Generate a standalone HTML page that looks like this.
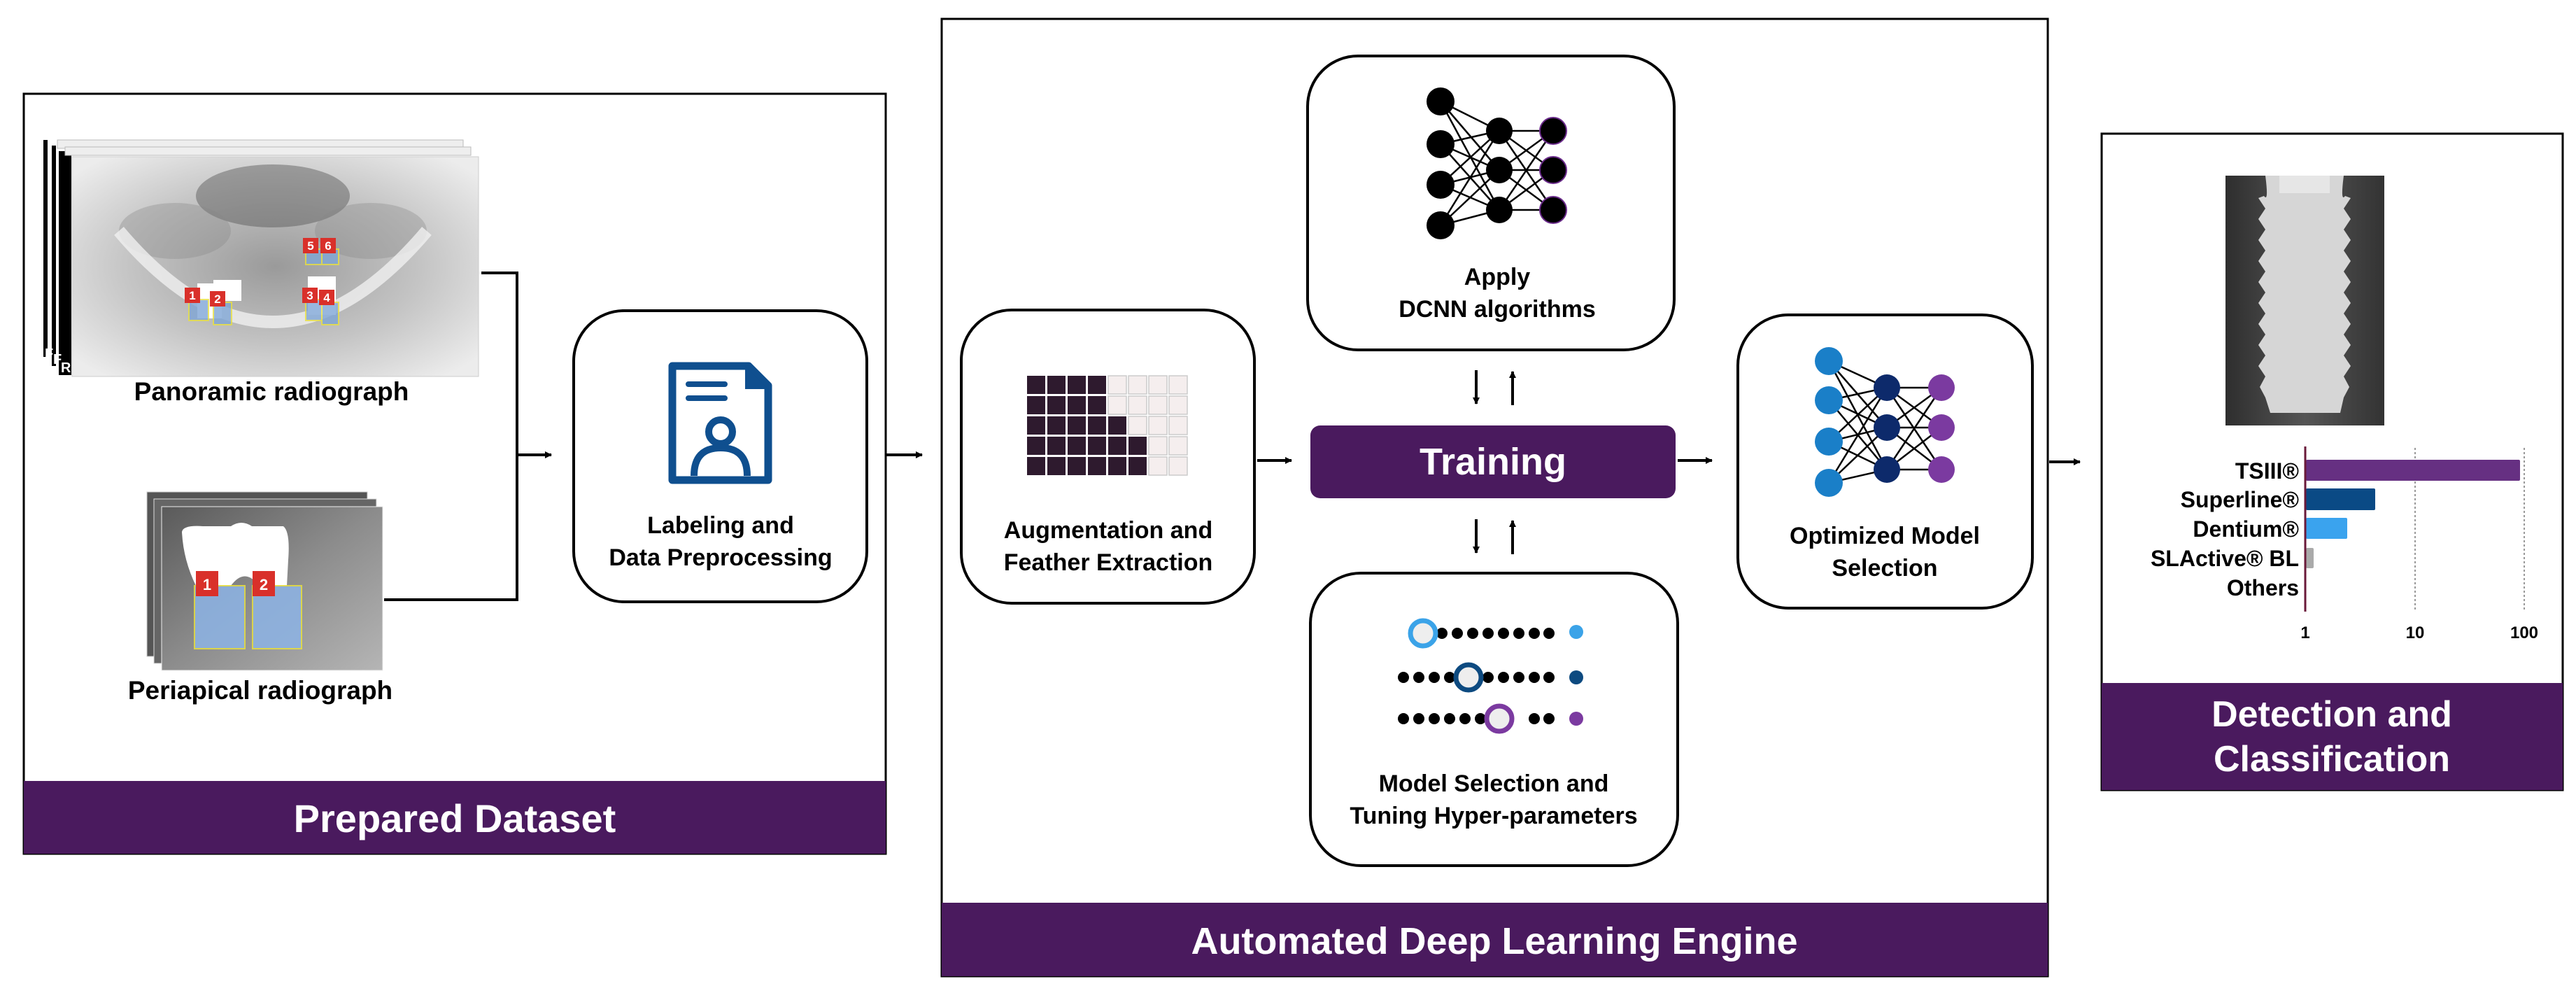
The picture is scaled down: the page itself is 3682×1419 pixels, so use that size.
<!DOCTYPE html>
<html><head><meta charset="utf-8"><style>
html,body{margin:0;padding:0;background:#fff;}
svg{display:block;}
text{font-family:"Liberation Sans",sans-serif;font-weight:bold;}
</style></head><body>
<svg width="3682" height="1419" viewBox="0 0 3682 1419" xmlns="http://www.w3.org/2000/svg">
<defs>
<marker id="ah" markerWidth="10" markerHeight="10" refX="9" refY="5" orient="auto" markerUnits="userSpaceOnUse">
<path d="M0,0 L10,5 L0,10 z" fill="#000"/></marker>
<radialGradient id="pan" cx="0.5" cy="0.5" r="0.65">
<stop offset="0" stop-color="#9a9a9a"/><stop offset="0.55" stop-color="#c4c4c4"/><stop offset="1" stop-color="#ececec"/></radialGradient>
<linearGradient id="peri" x1="0" y1="0" x2="1" y2="1">
<stop offset="0" stop-color="#5a5a5a"/><stop offset="0.5" stop-color="#8c8c8c"/><stop offset="1" stop-color="#b5b5b5"/></linearGradient>
<linearGradient id="imp" x1="0" y1="0" x2="1" y2="0">
<stop offset="0" stop-color="#2e2e2e"/><stop offset="0.5" stop-color="#555"/><stop offset="1" stop-color="#333"/></linearGradient>
</defs>

<!-- Prepared Dataset -->
<rect x="34" y="134" width="1232" height="1086" fill="#fff" stroke="#000" stroke-width="3"/>
<rect x="34" y="1116" width="1232" height="104" fill="#4a1a5e"/>
<text x="650" y="1189" font-size="56" fill="#fff" text-anchor="middle">Prepared Dataset</text>

<!-- panoramic stack -->
<rect x="62" y="200" width="6" height="310" fill="#000"/>
<rect x="74" y="208" width="6" height="315" fill="#000"/>
<rect x="84" y="216" width="18" height="320" fill="#000"/>
<rect x="82" y="200" width="580" height="12" fill="#eee" stroke="#bbb"/>
<rect x="93" y="210" width="580" height="12" fill="#eee" stroke="#bbb"/>
<rect x="103" y="224" width="581" height="314" fill="url(#pan)" stroke="#ccc"/>
<ellipse cx="390" cy="280" rx="110" ry="45" fill="#555" opacity="0.45"/>
<ellipse cx="250" cy="330" rx="80" ry="40" fill="#888" opacity="0.35"/>
<ellipse cx="530" cy="330" rx="80" ry="40" fill="#888" opacity="0.35"/>
<path d="M170,330 Q390,590 610,330" stroke="#f0f0f0" stroke-width="18" fill="none" opacity="0.8"/>
<g fill="#fff"><rect x="282" y="405" width="35" height="50"/><rect x="440" y="395" width="40" height="55"/><rect x="305" y="400" width="40" height="30"/></g>
<g fill="#7fa6d6" opacity="0.8" stroke="#e8e040" stroke-width="2">
<rect x="270" y="428" width="28" height="30"/><rect x="305" y="432" width="26" height="32"/>
<rect x="437" y="428" width="24" height="30"/><rect x="460" y="432" width="24" height="32"/>
<rect x="437" y="356" width="24" height="22"/><rect x="460" y="356" width="24" height="22"/></g>
<g fill="#d9302a"><rect x="264" y="411" width="22" height="22"/><rect x="300" y="416" width="22" height="22"/>
<rect x="432" y="411" width="22" height="22"/><rect x="456" y="414" width="22" height="22"/>
<rect x="433" y="340" width="22" height="22"/><rect x="458" y="340" width="22" height="22"/></g>
<g fill="#fff" font-size="17" text-anchor="middle">
<text x="275" y="428">1</text><text x="311" y="433">2</text><text x="443" y="428">3</text><text x="467" y="431">4</text><text x="444" y="357">5</text><text x="469" y="357">6</text></g>
<g fill="#fff" font-size="20"><text x="64" y="512">F</text><text x="76" y="520">F</text><text x="87" y="532">R</text></g>
<text x="388" y="572" font-size="37" text-anchor="middle">Panoramic radiograph</text>

<!-- periapical stack -->
<rect x="210" y="703" width="315" height="235" fill="#555" stroke="#ccc"/>
<rect x="220" y="713" width="318" height="235" fill="#666" stroke="#ddd"/>
<rect x="231" y="724" width="316" height="234" fill="url(#peri)" stroke="#eee"/>
<path d="M260,760 Q262,750 290,752 L330,752 Q345,742 360,752 L405,752 Q415,760 412,800 L410,837 L370,837 Q350,810 330,837 L280,837 Q262,800 260,760z" fill="#fff"/>
<g fill="#8db4e6" opacity="0.85" stroke="#e8e040" stroke-width="2">
<rect x="278" y="837" width="72" height="90"/><rect x="361" y="837" width="70" height="90"/></g>
<rect x="280" y="816" width="32" height="36" fill="#d9302a"/><rect x="361" y="816" width="32" height="36" fill="#d9302a"/>
<text x="296" y="843" font-size="22" fill="#fff" text-anchor="middle">1</text>
<text x="377" y="843" font-size="22" fill="#fff" text-anchor="middle">2</text>
<text x="372" y="999" font-size="37" text-anchor="middle">Periapical radiograph</text>

<!-- connectors left -->
<polyline points="688,390 739,390 739,857 549,857" fill="none" stroke="#000" stroke-width="4"/>
<line x1="739" y1="650" x2="788" y2="650" stroke="#000" stroke-width="4" marker-end="url(#ah)"/>

<!-- labeling box -->
<rect x="820" y="444" width="419" height="416" rx="72" fill="#fff" stroke="#000" stroke-width="4"/>
<path d="M961,523 L1070,523 L1098,551 L1098,686 L961,686 Z" fill="none" stroke="#0f4f8f" stroke-width="11" stroke-linejoin="round"/>
<path d="M1065,523 L1065,556 L1098,556" fill="#0f4f8f"/>
<rect x="980" y="545" width="60" height="8" rx="4" fill="#0f4f8f"/>
<rect x="980" y="565" width="60" height="8" rx="4" fill="#0f4f8f"/>
<circle cx="1030" cy="617" r="17" fill="none" stroke="#0f4f8f" stroke-width="10"/>
<path d="M992,680 Q992,640 1030,640 Q1068,640 1068,680" fill="none" stroke="#0f4f8f" stroke-width="10"/>
<text x="1030" y="762" font-size="34" text-anchor="middle">Labeling and</text>
<text x="1030" y="808" font-size="34" text-anchor="middle">Data Preprocessing</text>

<line x1="1266" y1="650" x2="1318" y2="650" stroke="#000" stroke-width="4" marker-end="url(#ah)"/>

<!-- Middle engine -->
<rect x="1346" y="27" width="1581" height="1368" fill="#fff" stroke="#000" stroke-width="3"/>
<rect x="1346" y="1290" width="1581" height="105" fill="#4a1a5e"/>
<text x="2136" y="1363" font-size="54" fill="#fff" text-anchor="middle">Automated Deep Learning Engine</text>

<!-- aug box -->
<rect x="1374" y="443" width="419" height="419" rx="72" fill="#fff" stroke="#000" stroke-width="4"/>
<g fill="#2e1a2e">
<rect x="1468" y="537" width="26" height="26"/><rect x="1497" y="537" width="26" height="26"/><rect x="1526" y="537" width="26" height="26"/><rect x="1555" y="537" width="26" height="26"/>
<rect x="1468" y="566" width="26" height="26"/><rect x="1497" y="566" width="26" height="26"/><rect x="1526" y="566" width="26" height="26"/><rect x="1555" y="566" width="26" height="26"/>
<rect x="1468" y="595" width="26" height="26"/><rect x="1497" y="595" width="26" height="26"/><rect x="1526" y="595" width="26" height="26"/><rect x="1555" y="595" width="26" height="26"/><rect x="1584" y="595" width="26" height="26"/>
<rect x="1468" y="624" width="26" height="26"/><rect x="1497" y="624" width="26" height="26"/><rect x="1526" y="624" width="26" height="26"/><rect x="1555" y="624" width="26" height="26"/><rect x="1584" y="624" width="26" height="26"/><rect x="1613" y="624" width="26" height="26"/>
<rect x="1468" y="653" width="26" height="26"/><rect x="1497" y="653" width="26" height="26"/><rect x="1526" y="653" width="26" height="26"/><rect x="1555" y="653" width="26" height="26"/><rect x="1584" y="653" width="26" height="26"/><rect x="1613" y="653" width="26" height="26"/>
</g>
<g fill="#f5eeee" stroke="#ccc" stroke-width="1.5">
<rect x="1584" y="537" width="26" height="26"/><rect x="1613" y="537" width="26" height="26"/><rect x="1642" y="537" width="26" height="26"/><rect x="1671" y="537" width="26" height="26"/>
<rect x="1584" y="566" width="26" height="26"/><rect x="1613" y="566" width="26" height="26"/><rect x="1642" y="566" width="26" height="26"/><rect x="1671" y="566" width="26" height="26"/>
<rect x="1613" y="595" width="26" height="26"/><rect x="1642" y="595" width="26" height="26"/><rect x="1671" y="595" width="26" height="26"/>
<rect x="1642" y="624" width="26" height="26"/><rect x="1671" y="624" width="26" height="26"/>
<rect x="1642" y="653" width="26" height="26"/><rect x="1671" y="653" width="26" height="26"/>
</g>
<text x="1584" y="769" font-size="34" text-anchor="middle">Augmentation and</text>
<text x="1584" y="815" font-size="34" text-anchor="middle">Feather Extraction</text>

<!-- DCNN box -->
<rect x="1869" y="80" width="524" height="420" rx="72" fill="#fff" stroke="#000" stroke-width="4"/>
<g stroke="#000" stroke-width="2.5">
<path d="M2059,145 L2143,187 M2059,145 L2143,243 M2059,145 L2143,300 M2059,206 L2143,187 M2059,206 L2143,243 M2059,206 L2143,300 M2059,264 L2143,187 M2059,264 L2143,243 M2059,264 L2143,300 M2059,322 L2143,187 M2059,322 L2143,243 M2059,322 L2143,300
M2143,187 L2220,187 M2143,187 L2220,243 M2143,187 L2220,300 M2143,243 L2220,187 M2143,243 L2220,243 M2143,243 L2220,300 M2143,300 L2220,187 M2143,300 L2220,243 M2143,300 L2220,300"/></g>
<g fill="#000"><circle cx="2059" cy="145" r="20"/><circle cx="2059" cy="206" r="20"/><circle cx="2059" cy="264" r="20"/><circle cx="2059" cy="322" r="20"/>
<circle cx="2143" cy="187" r="19"/><circle cx="2143" cy="243" r="19"/><circle cx="2143" cy="300" r="19"/></g>
<g fill="#000" stroke="#6a2a8a" stroke-width="2"><circle cx="2220" cy="187" r="19"/><circle cx="2220" cy="243" r="19"/><circle cx="2220" cy="300" r="19"/></g>
<text x="2140" y="407" font-size="34" text-anchor="middle">Apply</text>
<text x="2140" y="453" font-size="34" text-anchor="middle">DCNN algorithms</text>

<!-- up/down arrows -->
<g stroke="#000" stroke-width="4">
<line x1="2110" y1="529" x2="2110" y2="577" marker-end="url(#ah)"/>
<line x1="2162" y1="579" x2="2162" y2="531" marker-end="url(#ah)"/>
<line x1="2110" y1="742" x2="2110" y2="790" marker-end="url(#ah)"/>
<line x1="2162" y1="792" x2="2162" y2="744" marker-end="url(#ah)"/>
</g>

<!-- Training -->
<rect x="1873" y="608" width="522" height="104" rx="14" fill="#4a1a5e"/>
<text x="2134" y="678" font-size="54" fill="#fff" text-anchor="middle">Training</text>
<line x1="1797" y1="658" x2="1846" y2="658" stroke="#000" stroke-width="4" marker-end="url(#ah)"/>
<line x1="2398" y1="658" x2="2447" y2="658" stroke="#000" stroke-width="4" marker-end="url(#ah)"/>

<!-- Model selection box -->
<rect x="1873" y="819" width="525" height="418" rx="72" fill="#fff" stroke="#000" stroke-width="4"/>
<g fill="#000">
<circle cx="2061" cy="905" r="8"/><circle cx="2083" cy="905" r="8"/><circle cx="2105" cy="905" r="8"/><circle cx="2127" cy="905" r="8"/><circle cx="2149" cy="905" r="8"/><circle cx="2171" cy="905" r="8"/><circle cx="2193" cy="905" r="8"/><circle cx="2214" cy="905" r="8"/>
<circle cx="2006" cy="968" r="8"/><circle cx="2028" cy="968" r="8"/><circle cx="2050" cy="968" r="8"/><circle cx="2072" cy="968" r="8"/><circle cx="2127" cy="968" r="8"/><circle cx="2149" cy="968" r="8"/><circle cx="2171" cy="968" r="8"/><circle cx="2193" cy="968" r="8"/><circle cx="2214" cy="968" r="8"/>
<circle cx="2006" cy="1027" r="8"/><circle cx="2028" cy="1027" r="8"/><circle cx="2050" cy="1027" r="8"/><circle cx="2072" cy="1027" r="8"/><circle cx="2094" cy="1027" r="8"/><circle cx="2116" cy="1027" r="8"/><circle cx="2193" cy="1027" r="8"/><circle cx="2214" cy="1027" r="8"/>
</g>
<circle cx="2034" cy="905" r="18" fill="#eee" stroke="#3ba3e8" stroke-width="7"/>
<circle cx="2099" cy="968" r="18" fill="#eee" stroke="#0d4a80" stroke-width="7"/>
<circle cx="2143" cy="1027" r="18" fill="#eee" stroke="#7b3aa0" stroke-width="7"/>
<circle cx="2253" cy="903" r="10" fill="#3ba3e8"/>
<circle cx="2253" cy="968" r="10" fill="#0d4a80"/>
<circle cx="2253" cy="1027" r="10" fill="#7b3aa0"/>
<text x="2135" y="1131" font-size="34" text-anchor="middle">Model Selection and</text>
<text x="2135" y="1177" font-size="34" text-anchor="middle">Tuning Hyper-parameters</text>

<!-- Optimized box -->
<rect x="2484" y="450" width="421" height="419" rx="72" fill="#fff" stroke="#000" stroke-width="4"/>
<g stroke="#000" stroke-width="2.5">
<path d="M2614,516 L2697,554 M2614,516 L2697,611 M2614,516 L2697,671 M2614,572 L2697,554 M2614,572 L2697,611 M2614,572 L2697,671 M2614,631 L2697,554 M2614,631 L2697,611 M2614,631 L2697,671 M2614,690 L2697,554 M2614,690 L2697,611 M2614,690 L2697,671
M2697,554 L2775,554 M2697,554 L2775,611 M2697,554 L2775,671 M2697,611 L2775,554 M2697,611 L2775,611 M2697,611 L2775,671 M2697,671 L2775,554 M2697,671 L2775,611 M2697,671 L2775,671"/></g>
<g fill="#1a7fc8"><circle cx="2614" cy="516" r="20"/><circle cx="2614" cy="572" r="20"/><circle cx="2614" cy="631" r="20"/><circle cx="2614" cy="690" r="20"/></g>
<g fill="#0d2a6b"><circle cx="2697" cy="554" r="19"/><circle cx="2697" cy="611" r="19"/><circle cx="2697" cy="671" r="19"/></g>
<g fill="#7b3aa0"><circle cx="2775" cy="554" r="19"/><circle cx="2775" cy="611" r="19"/><circle cx="2775" cy="671" r="19"/></g>
<text x="2694" y="777" font-size="34" text-anchor="middle">Optimized Model</text>
<text x="2694" y="823" font-size="34" text-anchor="middle">Selection</text>

<line x1="2929" y1="660" x2="2973" y2="660" stroke="#000" stroke-width="4" marker-end="url(#ah)"/>

<!-- Right box -->
<rect x="3004" y="191" width="659" height="938" fill="#fff" stroke="#000" stroke-width="3"/>
<rect x="3004" y="976" width="659" height="153" fill="#4a1a5e"/>
<text x="3333" y="1038" font-size="52" fill="#fff" text-anchor="middle">Detection and</text>
<text x="3333" y="1102" font-size="52" fill="#fff" text-anchor="middle">Classification</text>

<rect x="3181" y="251" width="227" height="357" fill="url(#imp)"/>
<path d="M3238,251 L3350,251 Q3345,290 3352,280 L3360,283
L3350,298 L3360,313 L3350,328 L3360,343 L3350,358 L3360,373 L3350,388 L3360,403 L3350,418 L3360,433 L3350,448 L3360,463 L3350,478 L3360,493 L3350,508 L3360,523 L3350,538 L3358,553 L3350,568 L3345,590 L3245,590 L3238,568
L3230,553 L3238,538 L3228,523 L3238,508 L3228,493 L3238,478 L3228,463 L3238,448 L3228,433 L3238,418 L3228,403 L3238,388 L3228,373 L3238,358 L3228,343 L3238,328 L3228,313 L3238,298 L3228,283 L3236,280 Q3243,290 3238,251 Z" fill="#d6d6d6"/>
<rect x="3258" y="251" width="72" height="25" fill="#e6e6e6"/>

<g stroke="#999" stroke-width="2" stroke-dasharray="3,3"><line x1="3452" y1="640" x2="3452" y2="874"/><line x1="3608" y1="640" x2="3608" y2="874"/></g>
<rect x="3296" y="657" width="306" height="30" rx="2" fill="#663082"/>
<rect x="3296" y="698" width="99" height="31" rx="2" fill="#0a4a85"/>
<rect x="3296" y="740" width="59" height="30" rx="2" fill="#3aa3ee"/>
<rect x="3296" y="783" width="11" height="29" rx="2" fill="#aaa"/>
<line x1="3295" y1="638" x2="3295" y2="874" stroke="#6a1a3a" stroke-width="3"/>
<g font-size="32" text-anchor="end">
<text x="3286" y="684">TSIII®</text><text x="3286" y="725">Superline®</text><text x="3286" y="767">Dentium®</text><text x="3286" y="809">SLActive® BL</text><text x="3286" y="851">Others</text></g>
<g font-size="24" text-anchor="middle"><text x="3295" y="912">1</text><text x="3452" y="912">10</text><text x="3608" y="912">100</text></g>
</svg>
</body></html>
